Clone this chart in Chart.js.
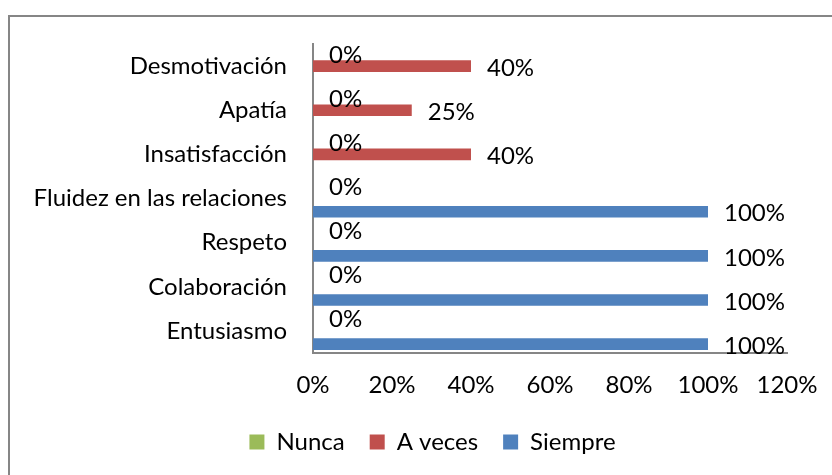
<!DOCTYPE html>
<html>
<head>
<meta charset="utf-8">
<script src="https://cdn.jsdelivr.net/npm/chart.js@4"></script>
<style>
  html, body { margin: 0; padding: 0; background: #fff; }
  #wrap { width: 832px; height: 475px; position: relative; }
</style>
</head>
<body>
<div id="wrap"><canvas id="c" width="832" height="475"></canvas></div>
<script>
const categories = ['Desmotivación', 'Apatía', 'Insatisfacción', 'Fluidez en las relaciones', 'Respeto', 'Colaboración', 'Entusiasmo'];
const nunca = [0, 0, 0, 0, 0, 0, 0];
const aVeces = [40, 25, 40, null, null, null, null];
const siempre = [null, null, null, 100, 100, 100, 100];
const xTicks = [0, 20, 40, 60, 80, 100, 120];

const FONT = 'Lato, Carlito, Calibri, sans-serif';
const SIZE = 24;

// value labels right of each bar end
const barLabels = {
  id: 'barLabels',
  afterDatasetsDraw(chart) {
    const ctx = chart.ctx;
    ctx.save();
    ctx.font = SIZE + 'px ' + FONT;
    ctx.fillStyle = '#000';
    ctx.textAlign = 'left';
    ctx.textBaseline = 'middle';
    chart.data.datasets.forEach((ds, i) => {
      chart.getDatasetMeta(i).data.forEach((el, j) => {
        const v = ds.data[j];
        if (v === null) return;
        ctx.fillText(v + '%', el.x + 16, el.y + 2);
      });
    });
    ctx.restore();
  }
};

// outer frame of the chart object
const frame = {
  id: 'frame',
  beforeDraw(chart) {
    const ctx = chart.ctx;
    ctx.save();
    ctx.strokeStyle = '#868686';
    ctx.lineWidth = 2;
    ctx.beginPath();
    ctx.moveTo(9, 475);
    ctx.lineTo(9, 16);
    ctx.lineTo(832, 16);
    ctx.stroke();
    ctx.restore();
  }
};

// Excel centres the legend a bit right of the canvas middle
const legendShift = {
  id: 'legendShift',
  afterLayout(chart) {
    chart.legend.left += 29;
    chart.legend.right += 29;
  }
};

new Chart(document.getElementById('c'), {
  type: 'bar',
  plugins: [barLabels, frame, legendShift],
  data: {
    labels: categories,
    datasets: [
      { label: 'Nunca', data: nunca, backgroundColor: '#9BBB59' },
      { label: 'A veces', data: aVeces, backgroundColor: '#C0504D' },
      { label: 'Siempre', data: siempre, backgroundColor: '#4F81BD' },
    ]
  },
  options: {
    responsive: false,
    animation: false,
    indexAxis: 'y',
    categoryPercentage: 0.9,
    barPercentage: 0.88,
    layout: {
      padding: {
        top: 44,
        left: 20,
        right: 45,
        bottom: 11,
      }
    },
    scales: {
      x: {
        min: 0,
        max: 120,
        afterBuildTicks: (scale) => {
          scale.ticks = xTicks.map((v) => ({ value: v }));
        },
        afterFit: (scale) => {
          scale.height = 52;
          // the layout padding already leaves room for the end labels
          scale.paddingLeft = 0;
          scale.paddingRight = 0;
        },
        ticks: {
          callback: (v) => v + '%',
          font: { family: FONT, size: SIZE },
          color: '#000',
          padding: 18,
          maxRotation: 0,
        },
        grid: { display: false, drawTicks: false },
        border: { display: true, color: '#868686', width: 2 },
      },
      y: {
        afterFit: (scale) => { scale.width = 313 - 20; },
        ticks: {
          font: { family: FONT, size: SIZE },
          color: '#000',
          padding: 26,
        },
        grid: { display: false, drawTicks: false },
        border: { display: true, color: '#868686', width: 2 },
      },
    },
    plugins: {
      legend: {
        position: 'bottom',
        labels: {
          font: { family: FONT, size: SIZE },
          color: '#000',
          boxWidth: 15,
          boxHeight: 15,
          padding: 25,
        }
      },
      tooltip: { enabled: false },
    },
  },
});
</script>
</body>
</html>
